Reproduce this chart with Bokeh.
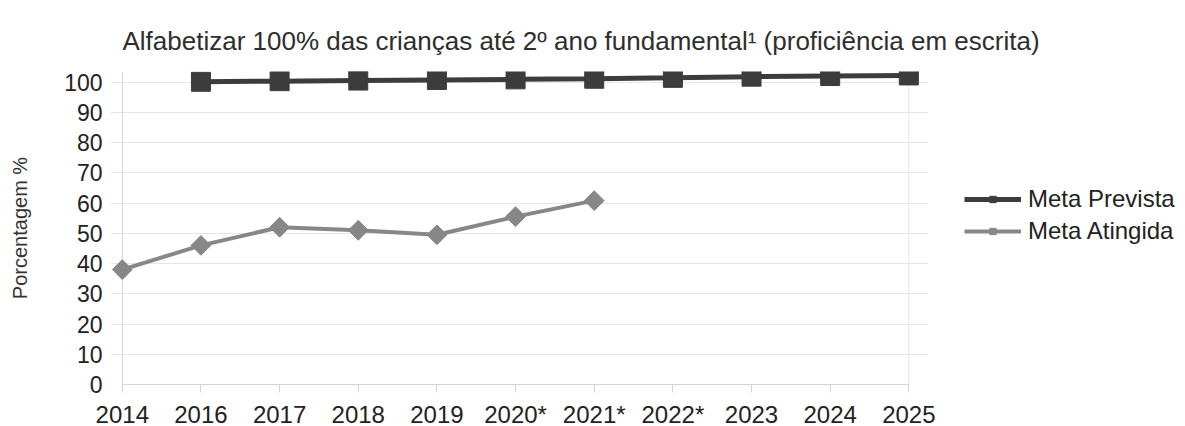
import math
from bokeh.plotting import figure
from bokeh.models import Legend, LegendItem, Range1d, Span, FixedTicker
from bokeh.embed import file_html
from bokeh.resources import INLINE

anos = ["2014", "2016", "2017", "2018", "2019", "2020*", "2021*", "2022*", "2023", "2024", "2025"]
idx_prevista = [1, 2, 3, 4, 5, 6, 7, 8, 9, 10]
meta_prevista = [100.1, 100.3, 100.5, 100.7, 100.9, 101.1, 101.4, 101.8, 102.0, 102.2]
idx_atingida = [0, 1, 2, 3, 4, 5, 6]
meta_atingida = [38.0, 46.0, 52.0, 51.0, 49.5, 55.5, 60.8]
y_ticks = [0, 10, 20, 30, 40, 50, 60, 70, 80, 90, 100]

FONT = "Liberation Sans"
COR_PREV = "#3c3c3c"
COR_ATING = "#878787"

p = figure(
    frame_width=818, frame_height=313,
    x_range=Range1d(-0.15, 10.25), y_range=Range1d(0, 103.5),
    output_backend="svg", toolbar_location=None,
    min_border_left=110, min_border_top=71, min_border_bottom=42, min_border_right=10,
    title="Alfabetizar 100% das crianças até 2º ano fundamental¹ (proficiência em escrita)",
)
p.title.text_font = FONT
p.title.text_font_size = "26px"
p.title.text_font_style = "normal"
p.title.text_color = "#2e2e2e"
p.title.align = "left"
p.title.offset = 12
p.title.standoff = 32

p.outline_line_color = None
p.background_fill_color = "white"
p.border_fill_color = "white"

p.xgrid.grid_line_color = None
p.ygrid.grid_line_color = "#e6e6e6"
p.ygrid.ticker = FixedTicker(ticks=y_ticks)

p.xaxis.ticker = FixedTicker(ticks=list(range(len(anos))))
p.xaxis.major_label_overrides = {i: a for i, a in enumerate(anos)}
p.xaxis.bounds = (0, 10)
p.yaxis.ticker = FixedTicker(ticks=y_ticks)
for ax in (p.xaxis[0], p.yaxis[0]):
    ax.minor_tick_line_color = None
    ax.major_tick_in = 0
    ax.major_label_text_font = FONT
    ax.major_label_text_color = "#222222"
p.xaxis.axis_line_color = "#d4d4d4"
p.xaxis.major_tick_line_color = "#d4d4d4"
p.xaxis.major_tick_out = 8
p.xaxis.major_label_standoff = 8
p.xaxis.major_label_text_font_size = "24px"
p.yaxis.axis_line_color = None
p.yaxis.major_tick_line_color = None
p.yaxis.major_tick_out = 0
p.yaxis.major_label_standoff = 8
p.yaxis.major_label_text_font_size = "23px"
p.yaxis.axis_label = "Porcentagem %"
p.yaxis.axis_label_text_font = FONT
p.yaxis.axis_label_text_font_size = "20px"
p.yaxis.axis_label_text_font_style = "normal"
p.yaxis.axis_label_text_color = "#333333"
p.yaxis.axis_label_standoff = 30

p.add_layout(Span(location=0, dimension="height", line_color="#d4d4d4", line_width=1, level="underlay"))
p.add_layout(Span(location=10, dimension="height", line_color="#e6e6e6", line_width=1, level="underlay"))

l1 = p.line(idx_prevista, meta_prevista, line_color=COR_PREV, line_width=5)
m1 = p.scatter(idx_prevista, meta_prevista, marker="square", size=19,
               fill_color=COR_PREV, line_color=COR_PREV)
l2 = p.line(idx_atingida, meta_atingida, line_color=COR_ATING, line_width=4)
m2 = p.scatter(idx_atingida, meta_atingida, marker="square", size=14, angle=math.pi / 4,
               fill_color=COR_ATING, line_color=COR_ATING)

legend = Legend(items=[
    LegendItem(label="Meta Prevista", renderers=[l1, m1]),
    LegendItem(label="Meta Atingida", renderers=[l2, m2]),
], location=(36, 139))
legend.border_line_color = None
legend.background_fill_alpha = 0
legend.glyph_width = 57
legend.glyph_height = 16
legend.label_text_font = FONT
legend.label_text_font_size = "24px"
legend.label_text_color = "#222222"
legend.label_standoff = 7
legend.spacing = 4
legend.padding = 4
legend.margin = 0
p.add_layout(legend, "right")

open("out.html", "w").write(file_html(p, INLINE))
